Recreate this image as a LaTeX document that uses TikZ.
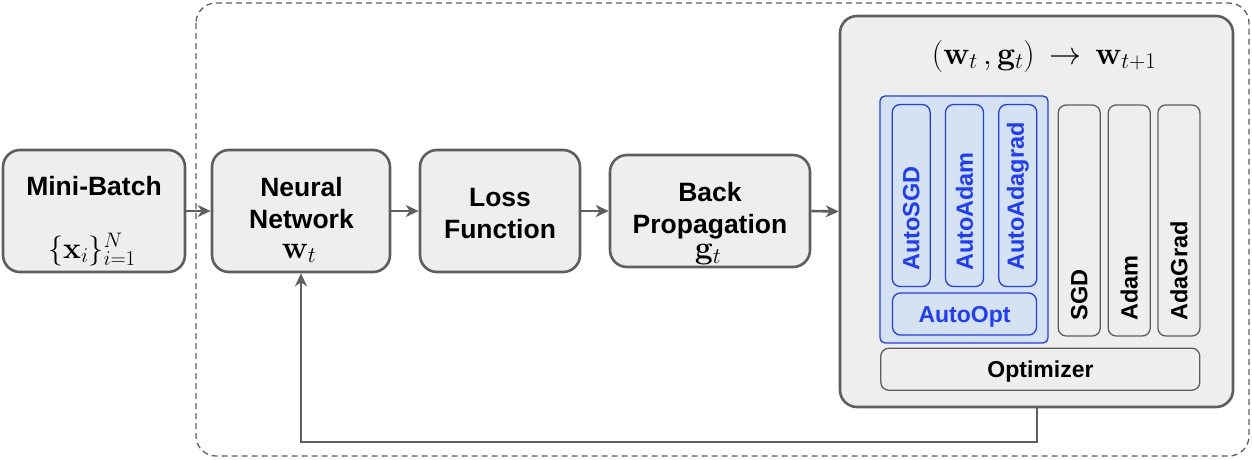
\RequirePackage{fix-cm}
\documentclass[tikz,border=0pt]{standalone}
\usepackage[no-math]{fontspec}
\setmainfont{Liberation Sans}
\usetikzlibrary{arrows.meta}
\definecolor{boxfill}{HTML}{EEEEEE}
\definecolor{boxline}{HTML}{5E5E5E}
\definecolor{autoblue}{HTML}{1E3CFF}
\definecolor{autofill}{HTML}{D5E2F2}
\tikzset{
  mainbox/.style={draw=boxline, fill=boxfill, line width=2.6pt, rounded corners=17pt, inner sep=0pt},
  thinbox/.style={draw=boxline, fill=boxfill, line width=1.3pt, rounded corners=8pt, inner sep=0pt},
  autobox/.style={draw=autoblue, fill=autofill, line width=1.3pt, rounded corners=8pt, inner sep=0pt},
  bigtxt/.style={anchor=base, inner sep=0pt, font=\fontsize{26.5}{32}\selectfont\bfseries},
  mathtxt/.style={anchor=base, inner sep=0pt, font=\fontsize{32}{36}\selectfont},
  smalltxt/.style={anchor=base, inner sep=0pt, font=\fontsize{23}{27}\selectfont\bfseries},
  vtext/.style={rotate=90, anchor=west, inner sep=0pt, xshift=16pt, font=\fontsize{23.5}{27}\selectfont\bfseries},
  conn/.style={draw=boxline, line width=2.6pt, -{Stealth[length=13pt,width=12pt,inset=4pt]}},
}
\begin{document}
\begin{tikzpicture}[x=1pt,y=-1pt]
\useasboundingbox (0,0) rectangle (1252,459);
\draw[boxline, line width=1.3pt, dash pattern=on 6pt off 4pt, rounded corners=20pt] (196,3) rectangle (1249,456);

% Mini-Batch
\node[mainbox, minimum width=182pt, minimum height=122pt] (mb) at (94,211) {};
\node[bigtxt] (mbt) at (94,195) {Mini-Batch};
\node[mathtxt, font=\fontsize{30}{34}\selectfont] (mbm) at (92,258) {$\{\mathbf{x}_i\}_{i=1}^N$};

% Neural Network
\node[mainbox, minimum width=178pt, minimum height=122pt] (nn) at (301,211) {};
\node[bigtxt] (nnt1) at (301.5,196) {Neural};
\node[bigtxt] (nnt2) at (301.5,228) {Network};
\node[mathtxt] (nnm) at (299,258) {$\mathbf{w}_t$};

% Loss Function
\node[mainbox, minimum width=160pt, minimum height=122pt] (lf) at (500,211) {};
\node[bigtxt] (lft1) at (500,206) {Loss};
\node[bigtxt] (lft2) at (500,238) {Function};

% Back Propagation
\node[mainbox, minimum width=200pt, minimum height=112pt] (bp) at (710,211) {};
\node[bigtxt] (bpt1) at (710,201) {Back};
\node[bigtxt] (bpt2) at (710,233) {Propagation};
\node[mathtxt] (bpm) at (708,258.5) {$\mathbf{g}_t$};

% Optimizer block
\node[mainbox, minimum width=393pt, minimum height=391pt] (opt) at (1036.5,211.5) {};
\node[mathtxt] (form) at (1044,64) {$(\mathbf{w}_t\,,\mathbf{g}_t)\,\rightarrow\,\mathbf{w}_{t+1}$};

\node[autobox, rounded corners=5pt, minimum width=168pt, minimum height=247pt] (blue) at (964,219.5) {};
\node[autobox, minimum width=38pt, minimum height=182pt] (asgd) at (911.2,195.5) {};
\node[autobox, minimum width=38pt, minimum height=182pt] (aadam) at (964.5,195.5) {};
\node[autobox, minimum width=38pt, minimum height=182pt] (aada) at (1017.8,195.5) {};
\node[autobox, minimum width=144pt, minimum height=42pt] (aopt) at (964.5,314) {};
\node[smalltxt, text=autoblue] (aoptt) at (964.5,322) {AutoOpt};
\node[vtext, text=autoblue] (asgdt) at (asgd.south) {AutoSGD};
\node[vtext, text=autoblue] (aadamt) at (aadam.south) {AutoAdam};
\node[vtext, text=autoblue] (aadat) at (aada.south) {AutoAdagrad};

\node[thinbox, minimum width=42pt, minimum height=231pt] (sgd) at (1079.2,220.5) {};
\node[thinbox, minimum width=42pt, minimum height=231pt] (adam) at (1129.2,220.5) {};
\node[thinbox, minimum width=42pt, minimum height=231pt] (adagrad) at (1178.9,220.5) {};
\node[vtext] (sgdt) at (sgd.south) {SGD};
\node[vtext] (adamt) at (adam.south) {Adam};
\node[vtext] (adagradt) at (adagrad.south) {AdaGrad};

\node[thinbox, minimum width=319pt, minimum height=42pt] (optim) at (1040.3,369.2) {};
\node[smalltxt] (optimt) at (1040.5,377) {Optimizer};

% connectors
\draw[conn] (mb.east) -- (nn.west);
\draw[conn] (nn.east) -- (lf.west);
\draw[conn] (lf.east) -- (bp.west);
\draw[conn] (bp.east) -- (opt.west);
\coordinate (fb) at (1037,442);
\draw[conn] (opt.south -| fb) -- (fb) -| (nn.south);
\end{tikzpicture}
\end{document}
